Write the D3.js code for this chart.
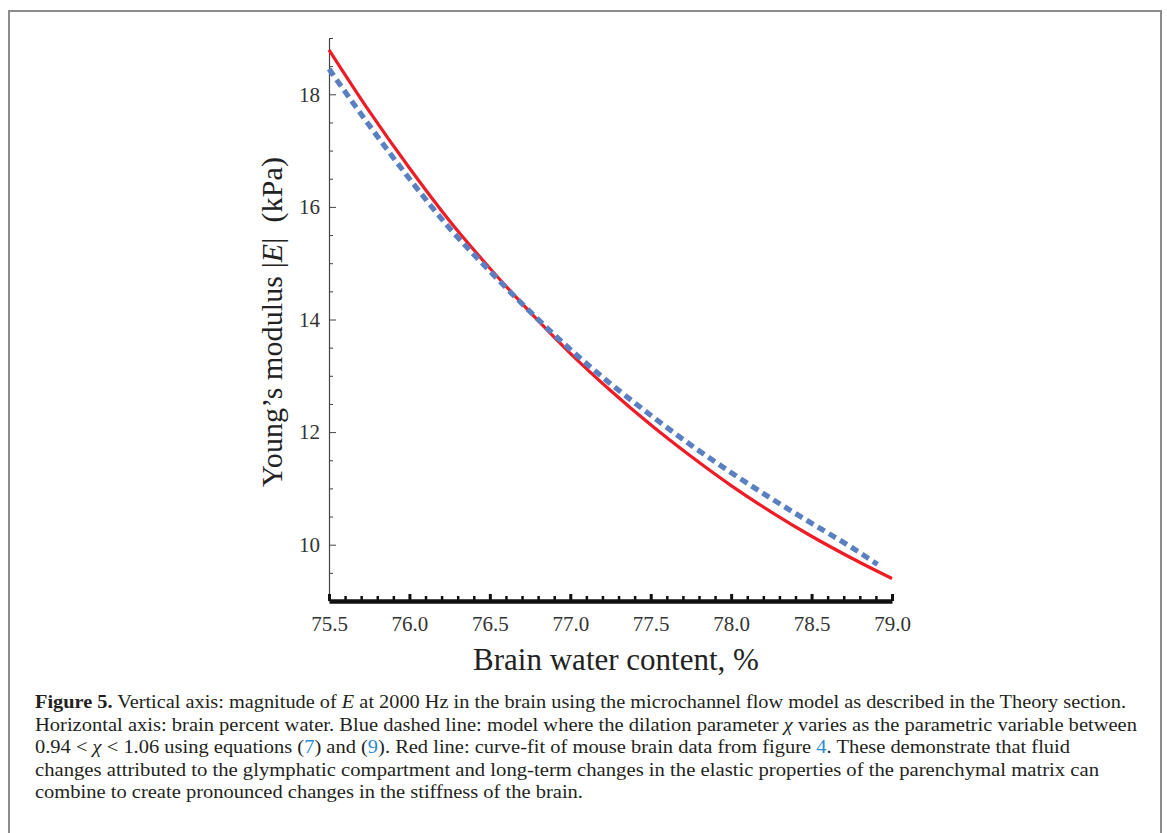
<!DOCTYPE html>
<html>
<head>
<meta charset="utf-8">
<script src="https://cdn.jsdelivr.net/npm/d3@7"></script>
<style>
  html, body { margin: 0; padding: 0; background: #fff; }
  svg { display: block; }
  text { font-family: "Liberation Serif", "Times New Roman", serif; }
</style>
</head>
<body>
<svg id="chart" width="1167" height="833"></svg>
<script>
// ---- data ----
const waterContent = [75.5, 75.75, 76.0, 76.25, 76.5, 76.75, 77.0, 77.25, 77.5, 77.75, 78.0, 78.25, 78.5, 78.75, 79.0];
const redFit =       [18.79, 17.70, 16.69, 15.75, 14.91, 14.13, 13.40, 12.74, 12.13, 11.57, 11.05, 10.58, 10.15, 9.76, 9.40];
const modelWater =   [75.5, 75.75, 76.0, 76.25, 76.5, 76.75, 77.0, 77.25, 77.5, 77.75, 78.0, 78.25, 78.5, 78.75, 78.91];
const blueModel =    [18.45, 17.45, 16.50, 15.62, 14.86, 14.14, 13.47, 12.86, 12.30, 11.77, 11.28, 10.82, 10.38, 9.95, 9.65];
const xMajorTicks = [75.5, 76.0, 76.5, 77.0, 77.5, 78.0, 78.5, 79.0];
const yMajorTicks = [10, 12, 14, 16, 18];
const xDomain = [75.5, 79.0];
const yDomain = [9, 19];

const captionLines = [
  [{t: "Figure\u00A05.", b: true}, {t: " Vertical axis: magnitude of "}, {t: "E", i: true}, {t: " at 2000 Hz in the brain using the microchannel flow model as described in the Theory section."}],
  [{t: "Horizontal axis: brain percent water. Blue dashed line: model where the dilation parameter "}, {t: "\u03C7", i: true}, {t: " varies as the parametric variable between"}],
  [{t: "0.94 < "}, {t: "\u03C7", i: true}, {t: " < 1.06 using equations ("}, {t: "7", l: true}, {t: ") and ("}, {t: "9", l: true}, {t: "). Red line: curve-fit of mouse brain data from figure "}, {t: "4", l: true}, {t: ". These demonstrate that fluid"}],
  [{t: "changes attributed to the glymphatic compartment and long-term changes in the elastic properties of the parenchymal matrix can"}],
  [{t: "combine to create pronounced changes in the stiffness of the brain."}]
];
const captionEnds = [1126, 1137, 1070, 1099, 583];

const svg = d3.select("#chart");

// frame
svg.append("path")
  .attr("d", "M9,833 L9,11 L1161,11 L1161,833")
  .attr("fill", "none").attr("stroke", "#8c8c8c").attr("stroke-width", 2);

const x = d3.scaleLinear().domain(xDomain).range([329, 892]);
const y = d3.scaleLinear().domain(yDomain).range([601, 38]);

// y axis minor ticks
const yMinor = d3.range(9.5, 19.01, 0.5).filter(v => !yMajorTicks.includes(v));
svg.append("g").attr("transform", "translate(329,0)")
  .call(d3.axisLeft(y).tickValues(yMinor).tickSize(-4).tickFormat(""))
  .call(g => g.select(".domain").remove())
  .call(g => g.selectAll("line").attr("stroke", "#444"));
// y axis major
const gy = svg.append("g").attr("transform", "translate(329,0)")
  .call(d3.axisLeft(y).tickValues(yMajorTicks).tickSize(-7).tickSizeOuter(0).tickPadding(9).tickFormat(d3.format("d")));
gy.attr("font-family", null);
gy.select(".domain").attr("stroke", "#444").attr("stroke-width", 1.2);
gy.selectAll("line").attr("stroke", "#444");
gy.selectAll("text").attr("font-size", 21).attr("fill", "#333");

// x axis minor ticks
const xMinor = d3.range(755, 791, 1).map(v => v / 10).filter(v => !xMajorTicks.some(m => Math.abs(m - v) < 1e-6));
svg.append("g").attr("transform", "translate(0,601)")
  .call(d3.axisBottom(x).tickValues(xMinor).tickSize(-5).tickFormat(""))
  .call(g => g.select(".domain").remove())
  .call(g => g.selectAll("line").attr("stroke", "#111").attr("stroke-width", 2.5));
// x axis major
const gx = svg.append("g").attr("transform", "translate(0,601)")
  .call(d3.axisBottom(x).tickValues(xMajorTicks).tickSize(-7).tickSizeOuter(0).tickPadding(15).tickFormat(d3.format(".1f")));
gx.attr("font-family", null);
gx.select(".domain").attr("stroke", "#111").attr("stroke-width", 4.5);
gx.selectAll("line").attr("stroke", "#111").attr("stroke-width", 3);
gx.selectAll("text").attr("font-size", 21).attr("fill", "#333");

// lines
const line = d3.line().x(d => x(d[0])).y(d => y(d[1])).curve(d3.curveMonotoneX);
svg.append("path")
  .datum(waterContent.map((w, i) => [w, redFit[i]]))
  .attr("d", line).attr("fill", "none").attr("stroke", "#ee1c25").attr("stroke-width", 3.2);
svg.append("path")
  .datum(modelWater.map((w, i) => [w, blueModel[i]]))
  .attr("d", line).attr("fill", "none").attr("stroke", "#5b80c2").attr("stroke-width", 5.2)
  .attr("stroke-dasharray", "8,5");

// axis titles
const yt = svg.append("text")
  .attr("transform", "translate(282,322) rotate(-90)")
  .attr("text-anchor", "middle").attr("font-size", 30).attr("fill", "#222")
  .attr("xml:space", "preserve");
yt.append("tspan").text("Young\u2019s modulus |");
yt.append("tspan").attr("font-style", "italic").text("E");
yt.append("tspan").text("|  (kPa)");
yt.attr("textLength", 330).attr("lengthAdjust", "spacing");

svg.append("text").attr("x", 616).attr("y", 670)
  .attr("text-anchor", "middle").attr("font-size", 31).attr("fill", "#222")
  .text("Brain water content, %");

// caption
const cap = svg.append("g");
captionLines.forEach((parts, li) => {
  const t = cap.append("text").attr("x", 35).attr("y", 708 + li * 22.5)
    .attr("font-size", 19.5).attr("fill", "#231f20");
  parts.forEach(p => {
    const s = t.append("tspan").text(p.t);
    if (p.b) s.attr("font-weight", "bold");
    if (p.i) s.attr("font-style", "italic");
    if (p.l) s.attr("fill", "#2a8ccf");
  });
  t.attr("textLength", captionEnds[li] - 35).attr("lengthAdjust", "spacingAndGlyphs");
});
</script>
</body>
</html>
